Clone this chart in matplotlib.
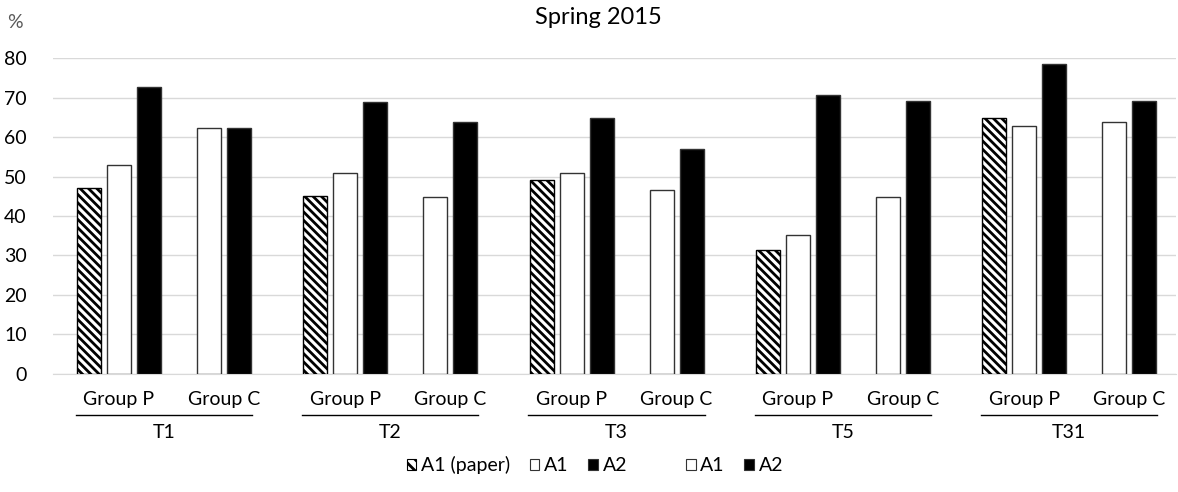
import numpy as np
import matplotlib.pyplot as plt
import matplotlib.transforms as mtransforms
from matplotlib.patches import Patch
from matplotlib.lines import Line2D

plt.rcParams['font.family'] = ['Lato', 'DejaVu Sans']
plt.rcParams['hatch.linewidth'] = 2.0

tests = ['T1', 'T2', 'T3', 'T5', 'T31']
groups = ['Group P', 'Group C']

# Group P: A1 (paper), A1, A2
p_a1_paper = [47.1, 45.0, 49.0, 31.3, 64.8]
p_a1 = [53.0, 51.0, 51.0, 35.3, 62.7]
p_a2 = [72.7, 68.8, 64.8, 70.7, 78.5]
# Group C: A1, A2
c_a1 = [62.2, 44.9, 46.6, 44.9, 63.8]
c_a2 = [62.2, 63.9, 57.0, 69.1, 69.1]

fig = plt.figure(figsize=(11.78, 4.92), dpi=100)
ax = fig.add_axes([0.045, 0.240, 0.953, 0.642])

w = 0.212
step = 0.265
p_x = np.arange(len(tests)) * 2.0
c_x = p_x + 0.928

ax.bar(p_x - step, p_a1_paper, w, color='white', edgecolor='black', hatch='\\\\\\\\', linewidth=1.0, zorder=3)
ax.bar(p_x, p_a1, w, color='white', edgecolor='#333333', linewidth=1.0, zorder=3)
ax.bar(p_x + step, p_a2, w, color='black', edgecolor='#333333', linewidth=1.0, zorder=3)
ax.bar(c_x - step / 2, c_a1, w, color='white', edgecolor='#333333', linewidth=1.0, zorder=3)
ax.bar(c_x + step / 2, c_a2, w, color='black', edgecolor='#333333', linewidth=1.0, zorder=3)

ax.set_ylim(0, 80)
ax.set_xlim(p_x[0] - 0.583, c_x[-1] + 0.41)
ax.set_yticks(np.arange(0, 81, 10))
ax.yaxis.grid(True, color='#d9d9d9', linewidth=1.0)
ax.set_axisbelow(True)
ax.tick_params(axis='y', length=0, labelsize=14, pad=19, labelcolor='#000000')
ax.set_xticks([])
for s in ['top', 'right', 'left']:
    ax.spines[s].set_visible(False)
ax.spines['bottom'].set_color('#d9d9d9')

# multi-level category labels
trans = mtransforms.blended_transform_factory(ax.transData, fig.transFigure)
for i, t in enumerate(tests):
    fig.text(p_x[i], 1 - 399 / 492, groups[0], transform=trans, ha='center', va='center', fontsize=14)
    fig.text(c_x[i], 1 - 399 / 492, groups[1], transform=trans, ha='center', va='center', fontsize=14)
    x0 = p_x[i] - step - w / 2 - 0.01
    x1 = c_x[i] + step / 2 + w / 2 + 0.01
    fig.add_artist(Line2D([x0, x1], [1 - 415 / 492] * 2, transform=trans, color='black', linewidth=1.0))
    fig.text((x0 + x1) / 2, 1 - 433 / 492, t, transform=trans, ha='center', va='center', fontsize=14)

fig.text(0.508, 1 - 17 / 492, 'Spring 2015', ha='center', va='center', fontsize=17)
fig.text(0.006, 1 - 22 / 492, '%', ha='left', va='center', fontsize=14, color='#595959')

handles = [
    Patch(facecolor='white', edgecolor='black', hatch='\\\\\\', linewidth=0.8),
    Patch(facecolor='white', edgecolor='#333333', linewidth=0.8),
    Patch(facecolor='black', edgecolor='#333333', linewidth=0.8),
    Patch(facecolor='none', edgecolor='none'),
    Patch(facecolor='white', edgecolor='#333333', linewidth=0.8),
    Patch(facecolor='black', edgecolor='#333333', linewidth=0.8),
]
labels = ['A1 (paper)', 'A1', 'A2', ' ', 'A1', 'A2']
fig.legend(handles, labels, loc='center', bbox_to_anchor=(595 / 1178, 1 - 465 / 492), ncol=6,
           frameon=False, fontsize=14, handlelength=0.5, handleheight=0.5,
           handletextpad=0.25, columnspacing=1.0)

fig.savefig('out.png', dpi=100)
